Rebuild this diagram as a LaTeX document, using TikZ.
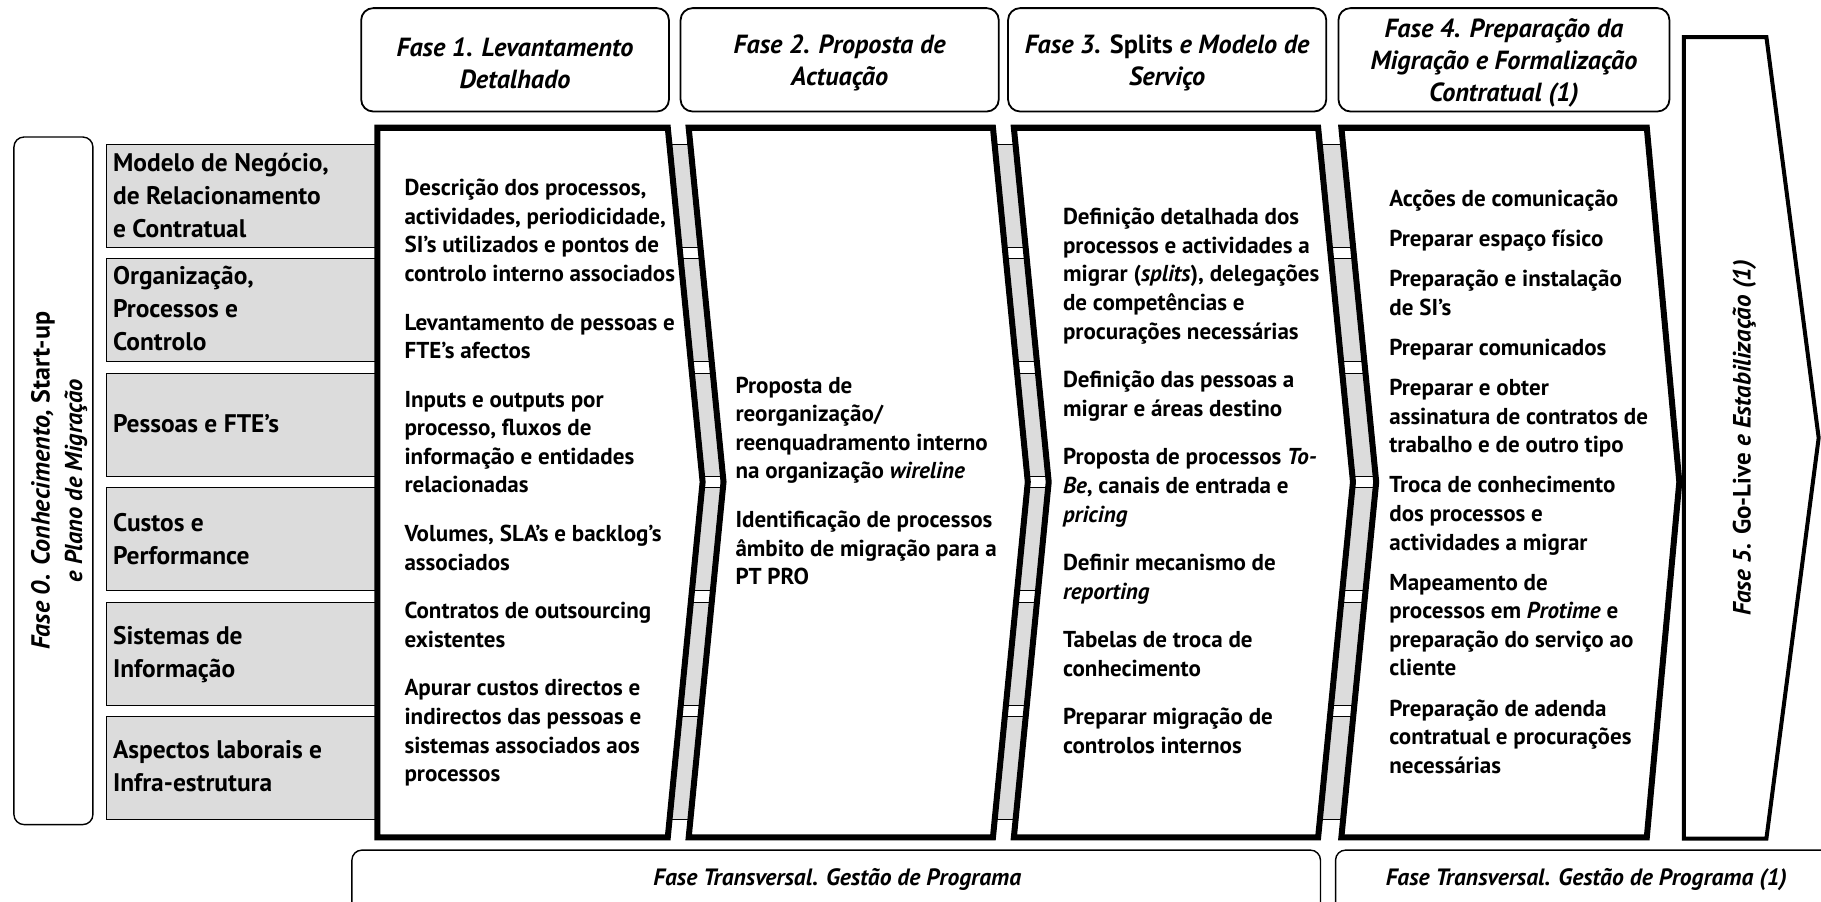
\documentclass[tikz,border=0pt]{standalone}
\usepackage{fontspec}
\setmainfont{PT Sans}
\definecolor{bandgray}{RGB}{220,220,220}
\newdimen\pxu \pxu=0.58pt
\begin{document}
\begin{tikzpicture}[x=0.58pt,y=-0.58pt,
  band/.style={draw=black,line width=0.5pt,fill=bandgray},
  chev/.style={draw=black,line width=3pt,fill=white,line join=miter},
  hdrbox/.style={draw=black,line width=0.9pt,rounded corners=6pt,fill=white,inner sep=0pt},
  hdrtxt/.style={align=center,inner sep=0pt,font=\fontsize{13.1}{16}\selectfont\bfseries\itshape},
  leftlbl/.style={anchor=north west,inner sep=0pt,align=left,font=\fontsize{12.7}{16.5}\selectfont\bfseries},
  bodytxt/.style={anchor=north west,inner sep=0pt,align=left,font=\fontsize{11.5}{14.27}\selectfont\bfseries},
  roundbox/.style={draw=black,line width=0.7pt,rounded corners=5pt},
  rottxt/.style={rotate=90,align=center,inner sep=0pt},
  bottxt/.style={inner sep=0pt,font=\fontsize{11.8}{14}\selectfont\bfseries\itshape}
]
\useasboundingbox (0,0) rectangle (1568,776);

% Fase 0 box
\draw[roundbox] (12,118) rectangle (80,710);
\node[rottxt,font=\fontsize{13}{16.2}\selectfont\bfseries] (f0txt) at (51,414)
  {\textit{Fase 0. Conhecimento,} Start-up\\ \fontsize{12.2}{16.2}\selectfont\textit{e Plano de Migração}};

% gray bands
\foreach \t/\b in {124/213, 222.6/311.6, 321.2/410, 419.8/508.8, 518.4/607.4, 617/706}
  \draw[band] (92,\t) rectangle (1200,\b);

% left labels
\node[leftlbl] (l1) at (97,127) {\strut Modelo de Negócio,\\ de Relacionamento\\ e Contratual};
\node[leftlbl] (l2) at (97,225) {\strut Organização,\\ Processos e\\ Controlo};
\node[leftlbl] (l3) at (97,352) {\strut Pessoas e FTE’s};
\node[leftlbl] (l4) at (97,437) {\strut Custos e\\ Performance};
\node[leftlbl] (l5) at (97,535) {\strut Sistemas de\\ Informação};
\node[leftlbl] (l6) at (97,633) {\strut Aspectos laborais e\\ Infra-estrutura};

% chevrons
\draw[chev] (325,110) -- (575,110) -- (605,415) -- (575,721) -- (325,721) -- cycle;
\draw[chev] (593,110) -- (855,110) -- (885,415) -- (855,721) -- (593,721) -- (623,415) -- cycle;
\draw[chev] (873,110) -- (1135,110) -- (1165,415) -- (1135,721) -- (873,721) -- (903,415) -- cycle;
\draw[chev] (1155,110) -- (1418,110) -- (1446,415) -- (1418,721) -- (1155,721) -- (1185,415) -- cycle;
% Fase 5
\draw[draw=black,line width=2pt,fill=white,line join=miter] (1450,32) -- (1521,32) -- (1566,377) -- (1521,722) -- (1450,722) -- cycle;
\node[rottxt,font=\fontsize{12.5}{14}\selectfont\bfseries] (f5txt) at (1502,377)
  {\textit{Fase 5.} Go-Live \textit{e Estabilização (1)}};

% headers
\node[hdrbox,minimum width=265\pxu,minimum height=89\pxu] (h1) at (443.5,51.5) {};
\node[hdrbox,minimum width=274\pxu,minimum height=89\pxu] (h2) at (723,51.5) {};
\node[hdrbox,minimum width=274\pxu,minimum height=89\pxu] (h3) at (1005,51.5) {};
\node[hdrbox,minimum width=285\pxu,minimum height=89\pxu] (h4) at (1295,51.5) {};
\node[hdrtxt,yshift=-1.6pt] (h1t) at (h1.center) {Fase 1. Levantamento\\ Detalhado};
\node[hdrtxt,yshift=-1.6pt] (h2t) at (h2.center) {Fase 2. Proposta de\\ Actuação};
\node[hdrtxt,yshift=-1.6pt] (h3t) at (h3.center) {Fase 3. \textup{Splits} e Modelo de\\ Serviço};
\node[hdrtxt,yshift=-1.4pt] (h4t) at (h4.center) {Fase 4. Preparação da\\ Migração e Formalização\\ Contratual (1)};

% chevron texts
\node[bodytxt] (c1) at (348,151) {\strut Descrição dos processos,\\
actividades, periodicidade,\\
SI’s utilizados e pontos de\\
controlo interno associados\\[10pt]
Levantamento de pessoas e\\
FTE’s afectos\\[10pt]
Inputs e outputs por\\
processo, fluxos de\\
informação e entidades\\
relacionadas\\[10pt]
Volumes, SLA’s e backlog’s\\
associados\\[10pt]
Contratos de outsourcing\\
existentes\\[10pt]
Apurar custos directos e\\
indirectos das pessoas e\\
sistemas associados aos\\
processos};

\node[bodytxt] (c2) at (633,321) {\strut Proposta de\\
reorganização/\\
reenquadramento interno\\
na organização \textit{wireline}\\[10pt]
Identificação de processos\\
âmbito de migração para a\\
PT PRO};

\node[bodytxt] (c3) at (915,176) {\strut Definição detalhada dos\\
processos e actividades a\\
migrar (\textit{splits}), delegações\\
de competências e\\
procurações necessárias\\[10pt]
Definição das pessoas a\\
migrar e áreas destino\\[10pt]
Proposta de processos \textit{To-}\\
\textit{Be}, canais de entrada e\\
\textit{pricing}\\[10pt]
Definir mecanismo de\\
\textit{reporting}\\[10pt]
Tabelas de troca de\\
conhecimento\\[10pt]
Preparar migração de\\
controlos internos};

\node[bodytxt] (c4) at (1196,160) {\strut Acções de comunicação\\[5.8pt]
Preparar espaço físico\\[5.8pt]
Preparação e instalação\\
de SI’s\\[5.8pt]
Preparar comunicados\\[5.8pt]
Preparar e obter\\
assinatura de contratos de\\
trabalho e de outro tipo\\[5.8pt]
Troca de conhecimento\\
dos processos e\\
actividades a migrar\\[5.8pt]
Mapeamento de\\
processos em \textit{Protime} e\\
preparação do serviço ao\\
cliente\\[5.8pt]
Preparação de adenda\\
contratual e procurações\\
necessárias};

% bottom boxes
\draw[roundbox] (303,732) rectangle (1137,810);
\draw[roundbox] (1150,732) rectangle (1620,810);
\node[bottxt] (b1) at (721,757) {Fase Transversal. Gestão de Programa};
\node[bottxt] (b2) at (1366,757) {Fase Transversal. Gestão de Programa (1)};
\end{tikzpicture}
\end{document}
